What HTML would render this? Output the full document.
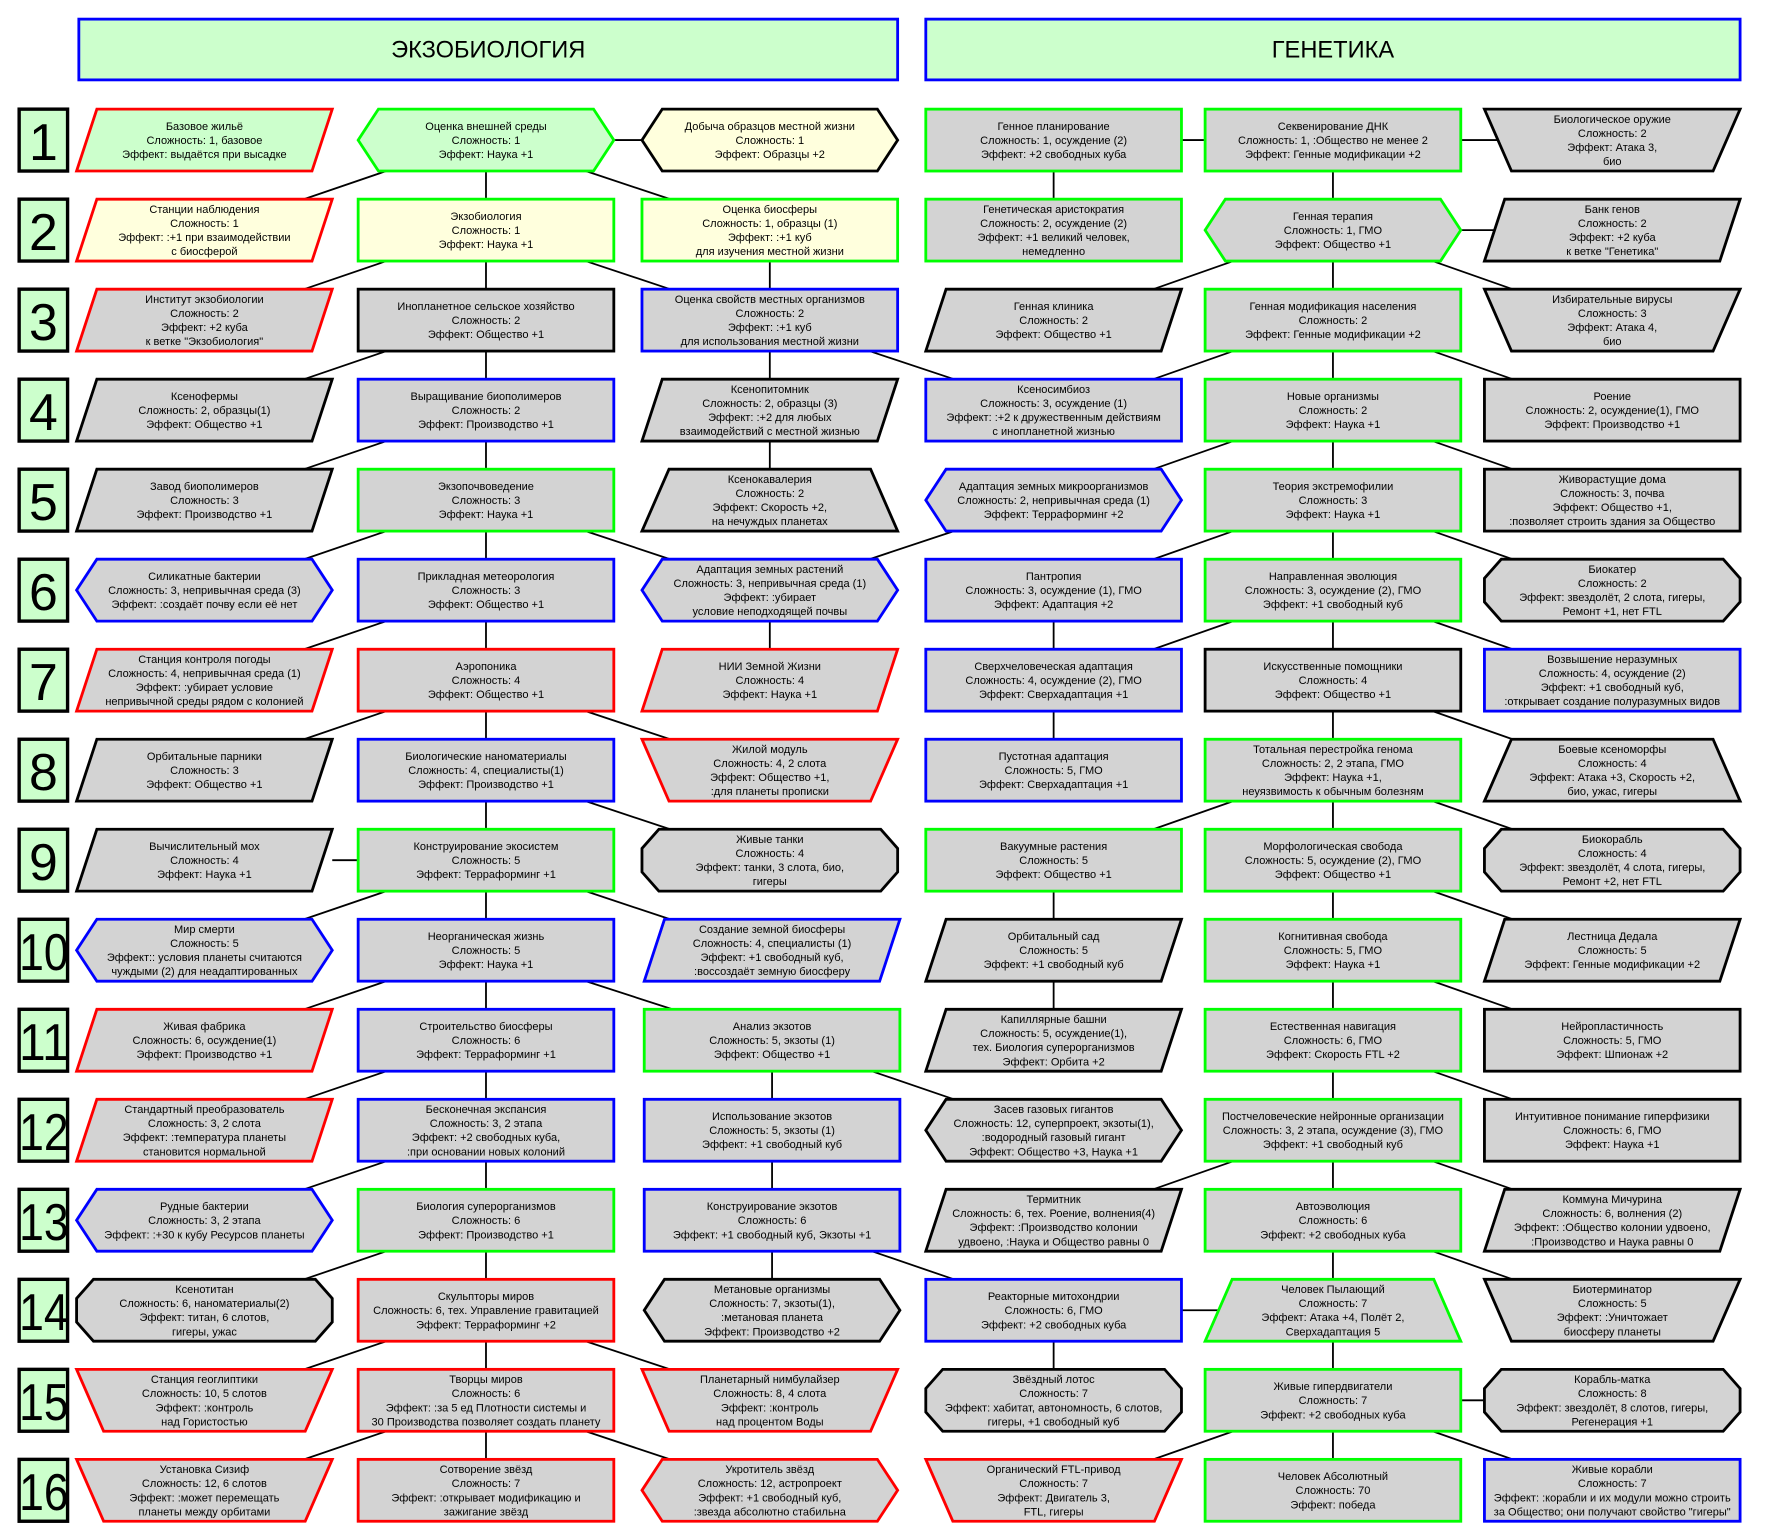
<!DOCTYPE html>
<html><head><meta charset="utf-8">
<style>
html,body{margin:0;padding:0;background:#fff;}
svg{display:block;}
text{font-family:"Liberation Sans",Arial,sans-serif;font-size:9.8px;fill:#000;text-anchor:middle;}
.hd{font-size:21px;}
.num{font-size:46px;}
</style></head><body>
<svg width="1766" height="1537" viewBox="0 0 1568 1366" preserveAspectRatio="none" xmlns="http://www.w3.org/2000/svg" xmlns:xlink="http://www.w3.org/1999/xlink">
<defs>
<rect id="R" x="0" y="0" width="227" height="55" stroke-width="2.5"/>
<polygon id="P" points="18,0 227,0 209,55 0,55" stroke-width="2.5"/>
<polygon id="H" points="18,0 209,0 227,27.5 209,55 18,55 0,27.5" stroke-width="2.5"/>
<polygon id="T" points="24,0 203,0 227,55 0,55" stroke-width="2.5"/>
<polygon id="V" points="0,0 227,0 203,55 24,55" stroke-width="2.5"/>
<polygon id="O" points="15,0 212,0 227,17 227,38 212,55 15,55 0,38 0,17" stroke-width="2.5"/>
<rect id="N" x="0" y="0" width="43" height="55" fill="#ccffcc" stroke="#000" stroke-width="3"/>
</defs>

<rect x="70" y="17" width="727" height="54" fill="#ccffcc" stroke="#0000ff" stroke-width="2.5"/>
<text class="hd" x="433.5" y="51">ЭКЗОБИОЛОГИЯ</text>
<rect x="822" y="17" width="723" height="54" fill="#ccffcc" stroke="#0000ff" stroke-width="2.5"/>
<text class="hd" x="1183.5" y="51">ГЕНЕТИКА</text>

<path fill="none" stroke="#000" stroke-width="1.6" d="
M545 124.5 H570 M343 152 L270 177 M431.5 152 V177 M520 152 L595 177
M343 232 L270 257 M431.5 232 V257 M520 232 L595 257 M683.5 232 V257
M343 312 L270 337 M431.5 312 V337 M683.5 312 V337 M772 312 L847 337
M343 392 L270 417 M431.5 392 V417 M683.5 392 V417
M343 472 L270 497 M431.5 472 V497 M520 472 L595 497
M772 497 L847 472
M343 552 L270 577 M431.5 552 V577 M683.5 552 V577
M343 632 L270 657 M431.5 632 V657 M520 632 L595 657
M431.5 712 V737 M520 712 L595 737
M295 764.5 H318
M343 792 L270 817 M431.5 792 V817 M520 792 L595 817
M343 872 L270 897 M431.5 872 V897 M520 872 L597 897
M343 952 L270 977 M431.5 952 V977 M685.5 952 V977 M774 952 L847 977
M343 1032 L270 1057 M431.5 1032 V1057 M685.5 1032 V1057
M343 1112 L270 1137 M431.5 1112 V1137 M685.5 1112 V1137 M774 1112 L847 1137
M343 1192 L270 1217 M431.5 1192 V1217 M520 1192 L595 1217
M343 1272 L270 1297 M431.5 1272 V1297 M520 1272 L595 1297

M1049 124.5 H1070 M1297 124.5 H1332 M935.5 152 V177 M1183.5 152 V177
M1297 204.5 H1330
M1095 232 L1024 257 M1183.5 232 V257 M1272 232 L1343 257
M1095 312 L1024 337 M1183.5 312 V337 M1272 312 L1343 337
M1095 392 L1024 417 M1183.5 392 V417 M1272 392 L1343 417
M1095 472 L1024 497 M1183.5 472 V497 M1272 472 L1343 497
M1095 552 L1024 577 M1183.5 552 V577 M1272 552 L1343 577 M935.5 552 V577
M935.5 632 V657 M1183.5 632 V657 M1272 632 L1343 657
M1095 712 L1024 737 M1183.5 712 V737 M1272 712 L1343 737
M935.5 792 V817 M1183.5 792 V817 M1272 792 L1343 817
M935.5 872 V897 M1183.5 872 V897 M1272 872 L1343 897
M1183.5 952 V977 M1272 952 L1343 977
M1095 1032 L1024 1057 M1183.5 1032 V1057 M1272 1032 L1343 1057
M1183.5 1112 V1137 M1272 1112 L1343 1137
M1049 1164.5 H1085 M935.5 1192 V1217 M1183.5 1192 V1217
M1297 1244.5 H1318
M1095 1272 L1024 1297 M1183.5 1272 V1297 M1272 1272 L1343 1297
"/>

<use xlink:href="#N" x="17" y="97"/><text class="num" x="38.5" y="142">1</text>
<use xlink:href="#N" x="17" y="177"/><text class="num" x="38.5" y="222">2</text>
<use xlink:href="#N" x="17" y="257"/><text class="num" x="38.5" y="302">3</text>
<use xlink:href="#N" x="17" y="337"/><text class="num" x="38.5" y="382">4</text>
<use xlink:href="#N" x="17" y="417"/><text class="num" x="38.5" y="462">5</text>
<use xlink:href="#N" x="17" y="497"/><text class="num" x="38.5" y="542">6</text>
<use xlink:href="#N" x="17" y="577"/><text class="num" x="38.5" y="622">7</text>
<use xlink:href="#N" x="17" y="657"/><text class="num" x="38.5" y="702">8</text>
<use xlink:href="#N" x="17" y="737"/><text class="num" x="38.5" y="782">9</text>
<use xlink:href="#N" x="17" y="817"/><text class="num" x="39" y="862" textLength="44" lengthAdjust="spacingAndGlyphs">10</text>
<use xlink:href="#N" x="17" y="897"/><text class="num" x="39" y="942" textLength="44" lengthAdjust="spacingAndGlyphs">11</text>
<use xlink:href="#N" x="17" y="977"/><text class="num" x="39" y="1022" textLength="44" lengthAdjust="spacingAndGlyphs">12</text>
<use xlink:href="#N" x="17" y="1057"/><text class="num" x="39" y="1102" textLength="44" lengthAdjust="spacingAndGlyphs">13</text>
<use xlink:href="#N" x="17" y="1137"/><text class="num" x="39" y="1182" textLength="44" lengthAdjust="spacingAndGlyphs">14</text>
<use xlink:href="#N" x="17" y="1217"/><text class="num" x="39" y="1262" textLength="44" lengthAdjust="spacingAndGlyphs">15</text>
<use xlink:href="#N" x="17" y="1297"/><text class="num" x="39" y="1342" textLength="44" lengthAdjust="spacingAndGlyphs">16</text>

<use xlink:href="#P" x="68" y="97" fill="#ccffcc" stroke="#ff0000"/>
<text x="181.5" y="128"><tspan x="181.5" dy="-12.5">Базовое жильё</tspan><tspan x="181.5" dy="12.5">Сложность: 1, базовое</tspan><tspan x="181.5" dy="12.5">Эффект: выдаётся при высадке</tspan></text>
<use xlink:href="#H" x="318" y="97" fill="#ccffcc" stroke="#00ff00"/>
<text x="431.5" y="128"><tspan x="431.5" dy="-12.5">Оценка внешней среды</tspan><tspan x="431.5" dy="12.5">Сложность: 1</tspan><tspan x="431.5" dy="12.5">Эффект: Наука +1</tspan></text>
<use xlink:href="#H" x="570" y="97" fill="#ffffdd" stroke="#000"/>
<text x="683.5" y="128"><tspan x="683.5" dy="-12.5">Добыча образцов местной жизни</tspan><tspan x="683.5" dy="12.5">Сложность: 1</tspan><tspan x="683.5" dy="12.5">Эффект: Образцы +2</tspan></text>
<use xlink:href="#R" x="822" y="97" fill="#d3d3d3" stroke="#00ff00"/>
<text x="935.5" y="128"><tspan x="935.5" dy="-12.5">Генное планирование</tspan><tspan x="935.5" dy="12.5">Сложность: 1, осуждение (2)</tspan><tspan x="935.5" dy="12.5">Эффект: +2 свободных куба</tspan></text>
<use xlink:href="#R" x="1070" y="97" fill="#d3d3d3" stroke="#00ff00"/>
<text x="1183.5" y="128"><tspan x="1183.5" dy="-12.5">Секвенирование ДНК</tspan><tspan x="1183.5" dy="12.5">Сложность: 1, :Общество не менее 2</tspan><tspan x="1183.5" dy="12.5">Эффект: Генные модификации +2</tspan></text>
<use xlink:href="#V" x="1318" y="97" fill="#d3d3d3" stroke="#000"/>
<text x="1431.5" y="128"><tspan x="1431.5" dy="-18.75">Биологическое оружие</tspan><tspan x="1431.5" dy="12.5">Сложность: 2</tspan><tspan x="1431.5" dy="12.5">Эффект: Атака 3,</tspan><tspan x="1431.5" dy="12.5">био</tspan></text>

<use xlink:href="#P" x="68" y="177" fill="#ffffdd" stroke="#ff0000"/>
<text x="181.5" y="208"><tspan x="181.5" dy="-18.75">Станции наблюдения</tspan><tspan x="181.5" dy="12.5">Сложность: 1</tspan><tspan x="181.5" dy="12.5">Эффект: :+1 при взаимодействии</tspan><tspan x="181.5" dy="12.5">с биосферой</tspan></text>
<use xlink:href="#R" x="318" y="177" fill="#ffffdd" stroke="#00ff00"/>
<text x="431.5" y="208"><tspan x="431.5" dy="-12.5">Экзобиология</tspan><tspan x="431.5" dy="12.5">Сложность: 1</tspan><tspan x="431.5" dy="12.5">Эффект: Наука +1</tspan></text>
<use xlink:href="#R" x="570" y="177" fill="#ffffdd" stroke="#00ff00"/>
<text x="683.5" y="208"><tspan x="683.5" dy="-18.75">Оценка биосферы</tspan><tspan x="683.5" dy="12.5">Сложность: 1, образцы (1)</tspan><tspan x="683.5" dy="12.5">Эффект: :+1 куб</tspan><tspan x="683.5" dy="12.5">для изучения местной жизни</tspan></text>
<use xlink:href="#R" x="822" y="177" fill="#d3d3d3" stroke="#00ff00"/>
<text x="935.5" y="208"><tspan x="935.5" dy="-18.75">Генетическая аристократия</tspan><tspan x="935.5" dy="12.5">Сложность: 2, осуждение (2)</tspan><tspan x="935.5" dy="12.5">Эффект: +1 великий человек,</tspan><tspan x="935.5" dy="12.5">немедленно</tspan></text>
<use xlink:href="#H" x="1070" y="177" fill="#d3d3d3" stroke="#00ff00"/>
<text x="1183.5" y="208"><tspan x="1183.5" dy="-12.5">Генная терапия</tspan><tspan x="1183.5" dy="12.5">Сложность: 1, ГМО</tspan><tspan x="1183.5" dy="12.5">Эффект: Общество +1</tspan></text>
<use xlink:href="#P" x="1318" y="177" fill="#d3d3d3" stroke="#000"/>
<text x="1431.5" y="208"><tspan x="1431.5" dy="-18.75">Банк генов</tspan><tspan x="1431.5" dy="12.5">Сложность: 2</tspan><tspan x="1431.5" dy="12.5">Эффект: +2 куба</tspan><tspan x="1431.5" dy="12.5">к ветке "Генетика"</tspan></text>

<use xlink:href="#P" x="68" y="257" fill="#d3d3d3" stroke="#ff0000"/>
<text x="181.5" y="288"><tspan x="181.5" dy="-18.75">Институт экзобиологии</tspan><tspan x="181.5" dy="12.5">Сложность: 2</tspan><tspan x="181.5" dy="12.5">Эффект: +2 куба</tspan><tspan x="181.5" dy="12.5">к ветке "Экзобиология"</tspan></text>
<use xlink:href="#R" x="318" y="257" fill="#d3d3d3" stroke="#000"/>
<text x="431.5" y="288"><tspan x="431.5" dy="-12.5">Инопланетное сельское хозяйство</tspan><tspan x="431.5" dy="12.5">Сложность: 2</tspan><tspan x="431.5" dy="12.5">Эффект: Общество +1</tspan></text>
<use xlink:href="#R" x="570" y="257" fill="#d3d3d3" stroke="#0000ff"/>
<text x="683.5" y="288"><tspan x="683.5" dy="-18.75">Оценка свойств местных организмов</tspan><tspan x="683.5" dy="12.5">Сложность: 2</tspan><tspan x="683.5" dy="12.5">Эффект: :+1 куб</tspan><tspan x="683.5" dy="12.5">для использования местной жизни</tspan></text>
<use xlink:href="#P" x="822" y="257" fill="#d3d3d3" stroke="#000"/>
<text x="935.5" y="288"><tspan x="935.5" dy="-12.5">Генная клиника</tspan><tspan x="935.5" dy="12.5">Сложность: 2</tspan><tspan x="935.5" dy="12.5">Эффект: Общество +1</tspan></text>
<use xlink:href="#R" x="1070" y="257" fill="#d3d3d3" stroke="#00ff00"/>
<text x="1183.5" y="288"><tspan x="1183.5" dy="-12.5">Генная модификация населения</tspan><tspan x="1183.5" dy="12.5">Сложность: 2</tspan><tspan x="1183.5" dy="12.5">Эффект: Генные модификации +2</tspan></text>
<use xlink:href="#V" x="1318" y="257" fill="#d3d3d3" stroke="#000"/>
<text x="1431.5" y="288"><tspan x="1431.5" dy="-18.75">Избирательные вирусы</tspan><tspan x="1431.5" dy="12.5">Сложность: 3</tspan><tspan x="1431.5" dy="12.5">Эффект: Атака 4,</tspan><tspan x="1431.5" dy="12.5">био</tspan></text>

<use xlink:href="#P" x="68" y="337" fill="#d3d3d3" stroke="#000"/>
<text x="181.5" y="368"><tspan x="181.5" dy="-12.5">Ксенофермы</tspan><tspan x="181.5" dy="12.5">Сложность: 2, образцы(1)</tspan><tspan x="181.5" dy="12.5">Эффект: Общество +1</tspan></text>
<use xlink:href="#R" x="318" y="337" fill="#d3d3d3" stroke="#0000ff"/>
<text x="431.5" y="368"><tspan x="431.5" dy="-12.5">Выращивание биополимеров</tspan><tspan x="431.5" dy="12.5">Сложность: 2</tspan><tspan x="431.5" dy="12.5">Эффект: Производство +1</tspan></text>
<use xlink:href="#P" x="570" y="337" fill="#d3d3d3" stroke="#000"/>
<text x="683.5" y="368"><tspan x="683.5" dy="-18.75">Ксенопитомник</tspan><tspan x="683.5" dy="12.5">Сложность: 2, образцы (3)</tspan><tspan x="683.5" dy="12.5">Эффект: :+2 для любых</tspan><tspan x="683.5" dy="12.5">взаимодействий с местной жизнью</tspan></text>
<use xlink:href="#R" x="822" y="337" fill="#d3d3d3" stroke="#0000ff"/>
<text x="935.5" y="368"><tspan x="935.5" dy="-18.75">Ксеносимбиоз</tspan><tspan x="935.5" dy="12.5">Сложность: 3, осуждение (1)</tspan><tspan x="935.5" dy="12.5">Эффект: :+2 к дружественным действиям</tspan><tspan x="935.5" dy="12.5">с инопланетной жизнью</tspan></text>
<use xlink:href="#R" x="1070" y="337" fill="#d3d3d3" stroke="#00ff00"/>
<text x="1183.5" y="368"><tspan x="1183.5" dy="-12.5">Новые организмы</tspan><tspan x="1183.5" dy="12.5">Сложность: 2</tspan><tspan x="1183.5" dy="12.5">Эффект: Наука +1</tspan></text>
<use xlink:href="#R" x="1318" y="337" fill="#d3d3d3" stroke="#000"/>
<text x="1431.5" y="368"><tspan x="1431.5" dy="-12.5">Роение</tspan><tspan x="1431.5" dy="12.5">Сложность: 2, осуждение(1), ГМО</tspan><tspan x="1431.5" dy="12.5">Эффект: Производство +1</tspan></text>

<use xlink:href="#P" x="68" y="417" fill="#d3d3d3" stroke="#000"/>
<text x="181.5" y="448"><tspan x="181.5" dy="-12.5">Завод биополимеров</tspan><tspan x="181.5" dy="12.5">Сложность: 3</tspan><tspan x="181.5" dy="12.5">Эффект: Производство +1</tspan></text>
<use xlink:href="#R" x="318" y="417" fill="#d3d3d3" stroke="#00ff00"/>
<text x="431.5" y="448"><tspan x="431.5" dy="-12.5">Экзопочвоведение</tspan><tspan x="431.5" dy="12.5">Сложность: 3</tspan><tspan x="431.5" dy="12.5">Эффект: Наука +1</tspan></text>
<use xlink:href="#T" x="570" y="417" fill="#d3d3d3" stroke="#000"/>
<text x="683.5" y="448"><tspan x="683.5" dy="-18.75">Ксенокавалерия</tspan><tspan x="683.5" dy="12.5">Сложность: 2</tspan><tspan x="683.5" dy="12.5">Эффект: Скорость +2,</tspan><tspan x="683.5" dy="12.5">на нечуждых планетах</tspan></text>
<use xlink:href="#H" x="822" y="417" fill="#d3d3d3" stroke="#0000ff"/>
<text x="935.5" y="448"><tspan x="935.5" dy="-12.5">Адаптация земных микроорганизмов</tspan><tspan x="935.5" dy="12.5">Сложность: 2, непривычная среда (1)</tspan><tspan x="935.5" dy="12.5">Эффект: Терраформинг +2</tspan></text>
<use xlink:href="#R" x="1070" y="417" fill="#d3d3d3" stroke="#00ff00"/>
<text x="1183.5" y="448"><tspan x="1183.5" dy="-12.5">Теория экстремофилии</tspan><tspan x="1183.5" dy="12.5">Сложность: 3</tspan><tspan x="1183.5" dy="12.5">Эффект: Наука +1</tspan></text>
<use xlink:href="#R" x="1318" y="417" fill="#d3d3d3" stroke="#000"/>
<text x="1431.5" y="448"><tspan x="1431.5" dy="-18.75">Живорастущие дома</tspan><tspan x="1431.5" dy="12.5">Сложность: 3, почва</tspan><tspan x="1431.5" dy="12.5">Эффект: Общество +1,</tspan><tspan x="1431.5" dy="12.5">:позволяет строить здания за Общество</tspan></text>

<use xlink:href="#H" x="68" y="497" fill="#d3d3d3" stroke="#0000ff"/>
<text x="181.5" y="528"><tspan x="181.5" dy="-12.5">Силикатные бактерии</tspan><tspan x="181.5" dy="12.5">Сложность: 3, непривычная среда (3)</tspan><tspan x="181.5" dy="12.5">Эффект: :создаёт почву если её нет</tspan></text>
<use xlink:href="#R" x="318" y="497" fill="#d3d3d3" stroke="#0000ff"/>
<text x="431.5" y="528"><tspan x="431.5" dy="-12.5">Прикладная метеорология</tspan><tspan x="431.5" dy="12.5">Сложность: 3</tspan><tspan x="431.5" dy="12.5">Эффект: Общество +1</tspan></text>
<use xlink:href="#H" x="570" y="497" fill="#d3d3d3" stroke="#0000ff"/>
<text x="683.5" y="528"><tspan x="683.5" dy="-18.75">Адаптация земных растений</tspan><tspan x="683.5" dy="12.5">Сложность: 3, непривычная среда (1)</tspan><tspan x="683.5" dy="12.5">Эффект: :убирает</tspan><tspan x="683.5" dy="12.5">условие неподходящей почвы</tspan></text>
<use xlink:href="#R" x="822" y="497" fill="#d3d3d3" stroke="#0000ff"/>
<text x="935.5" y="528"><tspan x="935.5" dy="-12.5">Пантропия</tspan><tspan x="935.5" dy="12.5">Сложность: 3, осуждение (1), ГМО</tspan><tspan x="935.5" dy="12.5">Эффект: Адаптация +2</tspan></text>
<use xlink:href="#R" x="1070" y="497" fill="#d3d3d3" stroke="#00ff00"/>
<text x="1183.5" y="528"><tspan x="1183.5" dy="-12.5">Направленная эволюция</tspan><tspan x="1183.5" dy="12.5">Сложность: 3, осуждение (2), ГМО</tspan><tspan x="1183.5" dy="12.5">Эффект: +1 свободный куб</tspan></text>
<use xlink:href="#O" x="1318" y="497" fill="#d3d3d3" stroke="#000"/>
<text x="1431.5" y="528"><tspan x="1431.5" dy="-18.75">Биокатер</tspan><tspan x="1431.5" dy="12.5">Сложность: 2</tspan><tspan x="1431.5" dy="12.5">Эффект: звездолёт, 2 слота, гигеры,</tspan><tspan x="1431.5" dy="12.5">Ремонт +1, нет FTL</tspan></text>

<use xlink:href="#P" x="68" y="577" fill="#d3d3d3" stroke="#ff0000"/>
<text x="181.5" y="608"><tspan x="181.5" dy="-18.75">Станция контроля погоды</tspan><tspan x="181.5" dy="12.5">Сложность: 4, непривычная среда (1)</tspan><tspan x="181.5" dy="12.5">Эффект: :убирает условие</tspan><tspan x="181.5" dy="12.5">непривычной среды рядом с колонией</tspan></text>
<use xlink:href="#R" x="318" y="577" fill="#d3d3d3" stroke="#ff0000"/>
<text x="431.5" y="608"><tspan x="431.5" dy="-12.5">Аэропоника</tspan><tspan x="431.5" dy="12.5">Сложность: 4</tspan><tspan x="431.5" dy="12.5">Эффект: Общество +1</tspan></text>
<use xlink:href="#P" x="570" y="577" fill="#d3d3d3" stroke="#ff0000"/>
<text x="683.5" y="608"><tspan x="683.5" dy="-12.5">НИИ Земной Жизни</tspan><tspan x="683.5" dy="12.5">Сложность: 4</tspan><tspan x="683.5" dy="12.5">Эффект: Наука +1</tspan></text>
<use xlink:href="#R" x="822" y="577" fill="#d3d3d3" stroke="#0000ff"/>
<text x="935.5" y="608"><tspan x="935.5" dy="-12.5">Сверхчеловеческая адаптация</tspan><tspan x="935.5" dy="12.5">Сложность: 4, осуждение (2), ГМО</tspan><tspan x="935.5" dy="12.5">Эффект: Сверхадаптация +1</tspan></text>
<use xlink:href="#R" x="1070" y="577" fill="#d3d3d3" stroke="#000"/>
<text x="1183.5" y="608"><tspan x="1183.5" dy="-12.5">Искусственные помощники</tspan><tspan x="1183.5" dy="12.5">Сложность: 4</tspan><tspan x="1183.5" dy="12.5">Эффект: Общество +1</tspan></text>
<use xlink:href="#R" x="1318" y="577" fill="#d3d3d3" stroke="#0000ff"/>
<text x="1431.5" y="608"><tspan x="1431.5" dy="-18.75">Возвышение неразумных</tspan><tspan x="1431.5" dy="12.5">Сложность: 4, осуждение (2)</tspan><tspan x="1431.5" dy="12.5">Эффект: +1 свободный куб,</tspan><tspan x="1431.5" dy="12.5">:открывает создание полуразумных видов</tspan></text>

<use xlink:href="#P" x="68" y="657" fill="#d3d3d3" stroke="#000"/>
<text x="181.5" y="688"><tspan x="181.5" dy="-12.5">Орбитальные парники</tspan><tspan x="181.5" dy="12.5">Сложность: 3</tspan><tspan x="181.5" dy="12.5">Эффект: Общество +1</tspan></text>
<use xlink:href="#R" x="318" y="657" fill="#d3d3d3" stroke="#0000ff"/>
<text x="431.5" y="688"><tspan x="431.5" dy="-12.5">Биологические наноматериалы</tspan><tspan x="431.5" dy="12.5">Сложность: 4, специалисты(1)</tspan><tspan x="431.5" dy="12.5">Эффект: Производство +1</tspan></text>
<use xlink:href="#V" x="570" y="657" fill="#d3d3d3" stroke="#ff0000"/>
<text x="683.5" y="688"><tspan x="683.5" dy="-18.75">Жилой модуль</tspan><tspan x="683.5" dy="12.5">Сложность: 4, 2 слота</tspan><tspan x="683.5" dy="12.5">Эффект: Общество +1,</tspan><tspan x="683.5" dy="12.5">:для планеты прописки</tspan></text>
<use xlink:href="#R" x="822" y="657" fill="#d3d3d3" stroke="#0000ff"/>
<text x="935.5" y="688"><tspan x="935.5" dy="-12.5">Пустотная адаптация</tspan><tspan x="935.5" dy="12.5">Сложность: 5, ГМО</tspan><tspan x="935.5" dy="12.5">Эффект: Сверхадаптация +1</tspan></text>
<use xlink:href="#R" x="1070" y="657" fill="#d3d3d3" stroke="#00ff00"/>
<text x="1183.5" y="688"><tspan x="1183.5" dy="-18.75">Тотальная перестройка генома</tspan><tspan x="1183.5" dy="12.5">Сложность: 2, 2 этапа, ГМО</tspan><tspan x="1183.5" dy="12.5">Эффект: Наука +1,</tspan><tspan x="1183.5" dy="12.5">неуязвимость к обычным болезням</tspan></text>
<use xlink:href="#T" x="1318" y="657" fill="#d3d3d3" stroke="#000"/>
<text x="1431.5" y="688"><tspan x="1431.5" dy="-18.75">Боевые ксеноморфы</tspan><tspan x="1431.5" dy="12.5">Сложность: 4</tspan><tspan x="1431.5" dy="12.5">Эффект: Атака +3, Скорость +2,</tspan><tspan x="1431.5" dy="12.5">био, ужас, гигеры</tspan></text>

<use xlink:href="#P" x="68" y="737" fill="#d3d3d3" stroke="#000"/>
<text x="181.5" y="768"><tspan x="181.5" dy="-12.5">Вычислительный мох</tspan><tspan x="181.5" dy="12.5">Сложность: 4</tspan><tspan x="181.5" dy="12.5">Эффект: Наука +1</tspan></text>
<use xlink:href="#R" x="318" y="737" fill="#d3d3d3" stroke="#00ff00"/>
<text x="431.5" y="768"><tspan x="431.5" dy="-12.5">Конструирование экосистем</tspan><tspan x="431.5" dy="12.5">Сложность: 5</tspan><tspan x="431.5" dy="12.5">Эффект: Терраформинг +1</tspan></text>
<use xlink:href="#O" x="570" y="737" fill="#d3d3d3" stroke="#000"/>
<text x="683.5" y="768"><tspan x="683.5" dy="-18.75">Живые танки</tspan><tspan x="683.5" dy="12.5">Сложность: 4</tspan><tspan x="683.5" dy="12.5">Эффект: танки, 3 слота, био,</tspan><tspan x="683.5" dy="12.5">гигеры</tspan></text>
<use xlink:href="#R" x="822" y="737" fill="#d3d3d3" stroke="#00ff00"/>
<text x="935.5" y="768"><tspan x="935.5" dy="-12.5">Вакуумные растения</tspan><tspan x="935.5" dy="12.5">Сложность: 5</tspan><tspan x="935.5" dy="12.5">Эффект: Общество +1</tspan></text>
<use xlink:href="#R" x="1070" y="737" fill="#d3d3d3" stroke="#00ff00"/>
<text x="1183.5" y="768"><tspan x="1183.5" dy="-12.5">Морфологическая свобода</tspan><tspan x="1183.5" dy="12.5">Сложность: 5, осуждение (2), ГМО</tspan><tspan x="1183.5" dy="12.5">Эффект: Общество +1</tspan></text>
<use xlink:href="#O" x="1318" y="737" fill="#d3d3d3" stroke="#000"/>
<text x="1431.5" y="768"><tspan x="1431.5" dy="-18.75">Биокорабль</tspan><tspan x="1431.5" dy="12.5">Сложность: 4</tspan><tspan x="1431.5" dy="12.5">Эффект: звездолёт, 4 слота, гигеры,</tspan><tspan x="1431.5" dy="12.5">Ремонт +2, нет FTL</tspan></text>

<use xlink:href="#H" x="68" y="817" fill="#d3d3d3" stroke="#0000ff"/>
<text x="181.5" y="848"><tspan x="181.5" dy="-18.75">Мир смерти</tspan><tspan x="181.5" dy="12.5">Сложность: 5</tspan><tspan x="181.5" dy="12.5">Эффект:: условия планеты считаются</tspan><tspan x="181.5" dy="12.5">чуждыми (2) для неадаптированных</tspan></text>
<use xlink:href="#R" x="318" y="817" fill="#d3d3d3" stroke="#0000ff"/>
<text x="431.5" y="848"><tspan x="431.5" dy="-12.5">Неорганическая жизнь</tspan><tspan x="431.5" dy="12.5">Сложность: 5</tspan><tspan x="431.5" dy="12.5">Эффект: Наука +1</tspan></text>
<use xlink:href="#P" x="572" y="817" fill="#d3d3d3" stroke="#0000ff"/>
<text x="685.5" y="848"><tspan x="685.5" dy="-18.75">Создание земной биосферы</tspan><tspan x="685.5" dy="12.5">Сложность: 4, специалисты (1)</tspan><tspan x="685.5" dy="12.5">Эффект: +1 свободный куб,</tspan><tspan x="685.5" dy="12.5">:воссоздаёт земную биосферу</tspan></text>
<use xlink:href="#P" x="822" y="817" fill="#d3d3d3" stroke="#000"/>
<text x="935.5" y="848"><tspan x="935.5" dy="-12.5">Орбитальный сад</tspan><tspan x="935.5" dy="12.5">Сложность: 5</tspan><tspan x="935.5" dy="12.5">Эффект: +1 свободный куб</tspan></text>
<use xlink:href="#R" x="1070" y="817" fill="#d3d3d3" stroke="#00ff00"/>
<text x="1183.5" y="848"><tspan x="1183.5" dy="-12.5">Когнитивная свобода</tspan><tspan x="1183.5" dy="12.5">Сложность: 5, ГМО</tspan><tspan x="1183.5" dy="12.5">Эффект: Наука +1</tspan></text>
<use xlink:href="#P" x="1318" y="817" fill="#d3d3d3" stroke="#000"/>
<text x="1431.5" y="848"><tspan x="1431.5" dy="-12.5">Лестница Дедала</tspan><tspan x="1431.5" dy="12.5">Сложность: 5</tspan><tspan x="1431.5" dy="12.5">Эффект: Генные модификации +2</tspan></text>

<use xlink:href="#P" x="68" y="897" fill="#d3d3d3" stroke="#ff0000"/>
<text x="181.5" y="928"><tspan x="181.5" dy="-12.5">Живая фабрика</tspan><tspan x="181.5" dy="12.5">Сложность: 6, осуждение(1)</tspan><tspan x="181.5" dy="12.5">Эффект: Производство +1</tspan></text>
<use xlink:href="#R" x="318" y="897" fill="#d3d3d3" stroke="#0000ff"/>
<text x="431.5" y="928"><tspan x="431.5" dy="-12.5">Строительство биосферы</tspan><tspan x="431.5" dy="12.5">Сложность: 6</tspan><tspan x="431.5" dy="12.5">Эффект: Терраформинг +1</tspan></text>
<use xlink:href="#R" x="572" y="897" fill="#d3d3d3" stroke="#00ff00"/>
<text x="685.5" y="928"><tspan x="685.5" dy="-12.5">Анализ экзотов</tspan><tspan x="685.5" dy="12.5">Сложность: 5, экзоты (1)</tspan><tspan x="685.5" dy="12.5">Эффект: Общество +1</tspan></text>
<use xlink:href="#P" x="822" y="897" fill="#d3d3d3" stroke="#000"/>
<text x="935.5" y="928"><tspan x="935.5" dy="-18.75">Капиллярные башни</tspan><tspan x="935.5" dy="12.5">Сложность: 5, осуждение(1),</tspan><tspan x="935.5" dy="12.5">тех. Биология суперорганизмов</tspan><tspan x="935.5" dy="12.5">Эффект: Орбита +2</tspan></text>
<use xlink:href="#R" x="1070" y="897" fill="#d3d3d3" stroke="#00ff00"/>
<text x="1183.5" y="928"><tspan x="1183.5" dy="-12.5">Естественная навигация</tspan><tspan x="1183.5" dy="12.5">Сложность: 6, ГМО</tspan><tspan x="1183.5" dy="12.5">Эффект: Скорость FTL +2</tspan></text>
<use xlink:href="#R" x="1318" y="897" fill="#d3d3d3" stroke="#000"/>
<text x="1431.5" y="928"><tspan x="1431.5" dy="-12.5">Нейропластичность</tspan><tspan x="1431.5" dy="12.5">Сложность: 5, ГМО</tspan><tspan x="1431.5" dy="12.5">Эффект: Шпионаж +2</tspan></text>

<use xlink:href="#P" x="68" y="977" fill="#d3d3d3" stroke="#ff0000"/>
<text x="181.5" y="1008"><tspan x="181.5" dy="-18.75">Стандартный преобразователь</tspan><tspan x="181.5" dy="12.5">Сложность: 3, 2 слота</tspan><tspan x="181.5" dy="12.5">Эффект: :температура планеты</tspan><tspan x="181.5" dy="12.5">становится нормальной</tspan></text>
<use xlink:href="#R" x="318" y="977" fill="#d3d3d3" stroke="#0000ff"/>
<text x="431.5" y="1008"><tspan x="431.5" dy="-18.75">Бесконечная экспансия</tspan><tspan x="431.5" dy="12.5">Сложность: 3, 2 этапа</tspan><tspan x="431.5" dy="12.5">Эффект: +2 свободных куба,</tspan><tspan x="431.5" dy="12.5">:при основании новых колоний</tspan></text>
<use xlink:href="#R" x="572" y="977" fill="#d3d3d3" stroke="#0000ff"/>
<text x="685.5" y="1008"><tspan x="685.5" dy="-12.5">Использование экзотов</tspan><tspan x="685.5" dy="12.5">Сложность: 5, экзоты (1)</tspan><tspan x="685.5" dy="12.5">Эффект: +1 свободный куб</tspan></text>
<use xlink:href="#H" x="822" y="977" fill="#d3d3d3" stroke="#000"/>
<text x="935.5" y="1008"><tspan x="935.5" dy="-18.75">Засев газовых гигантов</tspan><tspan x="935.5" dy="12.5">Сложность: 12, суперпроект, экзоты(1),</tspan><tspan x="935.5" dy="12.5">:водородный газовый гигант</tspan><tspan x="935.5" dy="12.5">Эффект: Общество +3, Наука +1</tspan></text>
<use xlink:href="#R" x="1070" y="977" fill="#d3d3d3" stroke="#00ff00"/>
<text x="1183.5" y="1008"><tspan x="1183.5" dy="-12.5">Постчеловеческие нейронные организации</tspan><tspan x="1183.5" dy="12.5">Сложность: 3, 2 этапа, осуждение (3), ГМО</tspan><tspan x="1183.5" dy="12.5">Эффект: +1 свободный куб</tspan></text>
<use xlink:href="#R" x="1318" y="977" fill="#d3d3d3" stroke="#000"/>
<text x="1431.5" y="1008"><tspan x="1431.5" dy="-12.5">Интуитивное понимание гиперфизики</tspan><tspan x="1431.5" dy="12.5">Сложность: 6, ГМО</tspan><tspan x="1431.5" dy="12.5">Эффект: Наука +1</tspan></text>

<use xlink:href="#H" x="68" y="1057" fill="#d3d3d3" stroke="#0000ff"/>
<text x="181.5" y="1088"><tspan x="181.5" dy="-12.5">Рудные бактерии</tspan><tspan x="181.5" dy="12.5">Сложность: 3, 2 этапа</tspan><tspan x="181.5" dy="12.5">Эффект: :+30 к кубу Ресурсов планеты</tspan></text>
<use xlink:href="#R" x="318" y="1057" fill="#d3d3d3" stroke="#00ff00"/>
<text x="431.5" y="1088"><tspan x="431.5" dy="-12.5">Биология суперорганизмов</tspan><tspan x="431.5" dy="12.5">Сложность: 6</tspan><tspan x="431.5" dy="12.5">Эффект: Производство +1</tspan></text>
<use xlink:href="#R" x="572" y="1057" fill="#d3d3d3" stroke="#0000ff"/>
<text x="685.5" y="1088"><tspan x="685.5" dy="-12.5">Конструирование экзотов</tspan><tspan x="685.5" dy="12.5">Сложность: 6</tspan><tspan x="685.5" dy="12.5">Эффект: +1 свободный куб, Экзоты +1</tspan></text>
<use xlink:href="#P" x="822" y="1057" fill="#d3d3d3" stroke="#000"/>
<text x="935.5" y="1088"><tspan x="935.5" dy="-18.75">Термитник</tspan><tspan x="935.5" dy="12.5">Сложность: 6, тех. Роение, волнения(4)</tspan><tspan x="935.5" dy="12.5">Эффект: :Производство колонии</tspan><tspan x="935.5" dy="12.5">удвоено, :Наука и Общество равны 0</tspan></text>
<use xlink:href="#R" x="1070" y="1057" fill="#d3d3d3" stroke="#00ff00"/>
<text x="1183.5" y="1088"><tspan x="1183.5" dy="-12.5">Автоэволюция</tspan><tspan x="1183.5" dy="12.5">Сложность: 6</tspan><tspan x="1183.5" dy="12.5">Эффект: +2 свободных куба</tspan></text>
<use xlink:href="#P" x="1318" y="1057" fill="#d3d3d3" stroke="#000"/>
<text x="1431.5" y="1088"><tspan x="1431.5" dy="-18.75">Коммуна Мичурина</tspan><tspan x="1431.5" dy="12.5">Сложность: 6, волнения (2)</tspan><tspan x="1431.5" dy="12.5">Эффект: :Общество колонии удвоено,</tspan><tspan x="1431.5" dy="12.5">:Производство и Наука равны 0</tspan></text>

<use xlink:href="#O" x="68" y="1137" fill="#d3d3d3" stroke="#000"/>
<text x="181.5" y="1168"><tspan x="181.5" dy="-18.75">Ксенотитан</tspan><tspan x="181.5" dy="12.5">Сложность: 6, наноматериалы(2)</tspan><tspan x="181.5" dy="12.5">Эффект: титан, 6 слотов,</tspan><tspan x="181.5" dy="12.5">гигеры, ужас</tspan></text>
<use xlink:href="#R" x="318" y="1137" fill="#d3d3d3" stroke="#ff0000"/>
<text x="431.5" y="1168"><tspan x="431.5" dy="-12.5">Скульпторы миров</tspan><tspan x="431.5" dy="12.5">Сложность: 6, тех. Управление гравитацией</tspan><tspan x="431.5" dy="12.5">Эффект: Терраформинг +2</tspan></text>
<use xlink:href="#H" x="572" y="1137" fill="#d3d3d3" stroke="#000"/>
<text x="685.5" y="1168"><tspan x="685.5" dy="-18.75">Метановые организмы</tspan><tspan x="685.5" dy="12.5">Сложность: 7, экзоты(1),</tspan><tspan x="685.5" dy="12.5">:метановая планета</tspan><tspan x="685.5" dy="12.5">Эффект: Производство +2</tspan></text>
<use xlink:href="#R" x="822" y="1137" fill="#d3d3d3" stroke="#0000ff"/>
<text x="935.5" y="1168"><tspan x="935.5" dy="-12.5">Реакторные митохондрии</tspan><tspan x="935.5" dy="12.5">Сложность: 6, ГМО</tspan><tspan x="935.5" dy="12.5">Эффект: +2 свободных куба</tspan></text>
<use xlink:href="#T" x="1070" y="1137" fill="#d3d3d3" stroke="#00ff00"/>
<text x="1183.5" y="1168"><tspan x="1183.5" dy="-18.75">Человек Пылающий</tspan><tspan x="1183.5" dy="12.5">Сложность: 7</tspan><tspan x="1183.5" dy="12.5">Эффект: Атака +4, Полёт 2,</tspan><tspan x="1183.5" dy="12.5">Сверхадаптация 5</tspan></text>
<use xlink:href="#V" x="1318" y="1137" fill="#d3d3d3" stroke="#000"/>
<text x="1431.5" y="1168"><tspan x="1431.5" dy="-18.75">Биотерминатор</tspan><tspan x="1431.5" dy="12.5">Сложность: 5</tspan><tspan x="1431.5" dy="12.5">Эффект: :Уничтожает</tspan><tspan x="1431.5" dy="12.5">биосферу планеты</tspan></text>

<use xlink:href="#V" x="68" y="1217" fill="#d3d3d3" stroke="#ff0000"/>
<text x="181.5" y="1248"><tspan x="181.5" dy="-18.75">Станция геоглиптики</tspan><tspan x="181.5" dy="12.5">Сложность: 10, 5 слотов</tspan><tspan x="181.5" dy="12.5">Эффект: :контроль</tspan><tspan x="181.5" dy="12.5">над Гористостью</tspan></text>
<use xlink:href="#R" x="318" y="1217" fill="#d3d3d3" stroke="#ff0000"/>
<text x="431.5" y="1248"><tspan x="431.5" dy="-18.75">Творцы миров</tspan><tspan x="431.5" dy="12.5">Сложность: 6</tspan><tspan x="431.5" dy="12.5">Эффект: :за 5 ед Плотности системы и</tspan><tspan x="431.5" dy="12.5">30 Производства позволяет создать планету</tspan></text>
<use xlink:href="#V" x="570" y="1217" fill="#d3d3d3" stroke="#ff0000"/>
<text x="683.5" y="1248"><tspan x="683.5" dy="-18.75">Планетарный нимбулайзер</tspan><tspan x="683.5" dy="12.5">Сложность: 8, 4 слота</tspan><tspan x="683.5" dy="12.5">Эффект: :контроль</tspan><tspan x="683.5" dy="12.5">над процентом Воды</tspan></text>
<use xlink:href="#O" x="822" y="1217" fill="#d3d3d3" stroke="#000"/>
<text x="935.5" y="1248"><tspan x="935.5" dy="-18.75">Звёздный лотос</tspan><tspan x="935.5" dy="12.5">Сложность: 7</tspan><tspan x="935.5" dy="12.5">Эффект: хабитат, автономность, 6 слотов,</tspan><tspan x="935.5" dy="12.5">гигеры, +1 свободный куб</tspan></text>
<use xlink:href="#R" x="1070" y="1217" fill="#d3d3d3" stroke="#00ff00"/>
<text x="1183.5" y="1248"><tspan x="1183.5" dy="-12.5">Живые гипердвигатели</tspan><tspan x="1183.5" dy="12.5">Сложность: 7</tspan><tspan x="1183.5" dy="12.5">Эффект: +2 свободных куба</tspan></text>
<use xlink:href="#O" x="1318" y="1217" fill="#d3d3d3" stroke="#000"/>
<text x="1431.5" y="1248"><tspan x="1431.5" dy="-18.75">Корабль-матка</tspan><tspan x="1431.5" dy="12.5">Сложность: 8</tspan><tspan x="1431.5" dy="12.5">Эффект: звездолёт, 8 слотов, гигеры,</tspan><tspan x="1431.5" dy="12.5">Регенерация +1</tspan></text>

<use xlink:href="#V" x="68" y="1297" fill="#d3d3d3" stroke="#ff0000"/>
<text x="181.5" y="1328"><tspan x="181.5" dy="-18.75">Установка Сизиф</tspan><tspan x="181.5" dy="12.5">Сложность: 12, 6 слотов</tspan><tspan x="181.5" dy="12.5">Эффект: :может перемещать</tspan><tspan x="181.5" dy="12.5">планеты между орбитами</tspan></text>
<use xlink:href="#R" x="318" y="1297" fill="#d3d3d3" stroke="#ff0000"/>
<text x="431.5" y="1328"><tspan x="431.5" dy="-18.75">Сотворение звёзд</tspan><tspan x="431.5" dy="12.5">Сложность: 7</tspan><tspan x="431.5" dy="12.5">Эффект: :открывает модификацию и</tspan><tspan x="431.5" dy="12.5">зажигание звёзд</tspan></text>
<use xlink:href="#H" x="570" y="1297" fill="#d3d3d3" stroke="#ff0000"/>
<text x="683.5" y="1328"><tspan x="683.5" dy="-18.75">Укротитель звёзд</tspan><tspan x="683.5" dy="12.5">Сложность: 12, астропроект</tspan><tspan x="683.5" dy="12.5">Эффект: +1 свободный куб,</tspan><tspan x="683.5" dy="12.5">:звезда абсолютно стабильна</tspan></text>
<use xlink:href="#V" x="822" y="1297" fill="#d3d3d3" stroke="#ff0000"/>
<text x="935.5" y="1328"><tspan x="935.5" dy="-18.75">Органический FTL-привод</tspan><tspan x="935.5" dy="12.5">Сложность: 7</tspan><tspan x="935.5" dy="12.5">Эффект: Двигатель 3,</tspan><tspan x="935.5" dy="12.5">FTL, гигеры</tspan></text>
<use xlink:href="#R" x="1070" y="1297" fill="#d3d3d3" stroke="#00ff00"/>
<text x="1183.5" y="1328"><tspan x="1183.5" dy="-12.5">Человек Абсолютный</tspan><tspan x="1183.5" dy="12.5">Сложность: 70</tspan><tspan x="1183.5" dy="12.5">Эффект: победа</tspan></text>
<use xlink:href="#R" x="1318" y="1297" fill="#d3d3d3" stroke="#0000ff"/>
<text x="1431.5" y="1328"><tspan x="1431.5" dy="-18.75">Живые корабли</tspan><tspan x="1431.5" dy="12.5">Сложность: 7</tspan><tspan x="1431.5" dy="12.5">Эффект: :корабли и их модули можно строить</tspan><tspan x="1431.5" dy="12.5">за Общество; они получают свойство "гигеры"</tspan></text>
</svg>
</body></html>
